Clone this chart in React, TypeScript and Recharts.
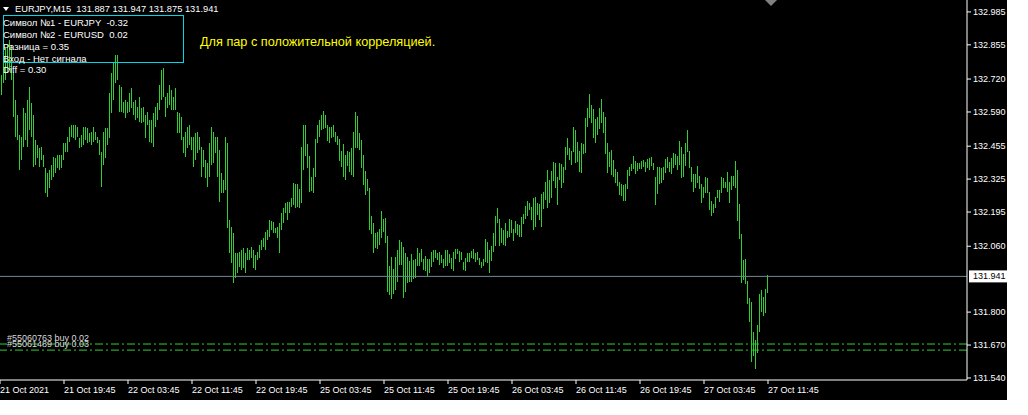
import { ComposedChart, Bar, XAxis, YAxis, ReferenceLine } from 'recharts'

const HIGH = [
  132.795, 132.736, 132.787, 132.843, 132.855, 132.874, 132.855, 132.748, 132.637, 132.578,
  132.499, 132.491, 132.606, 132.586, 132.637, 132.689, 132.625, 132.578, 132.479, 132.460,
  132.448, 132.452, 132.420, 132.369, 132.349, 132.361, 132.380, 132.412, 132.408, 132.420,
  132.420, 132.420, 132.467, 132.467, 132.491, 132.531, 132.539, 132.539, 132.539, 132.531,
  132.487, 132.499, 132.531, 132.531, 132.527, 132.507, 132.511, 132.531, 132.511, 132.491,
  132.479, 132.432, 132.511, 132.527, 132.527, 132.665, 132.744, 132.783, 132.815, 132.815,
  132.697, 132.689, 132.629, 132.637, 132.629, 132.665, 132.685, 132.629, 132.637, 132.610,
  132.649, 132.606, 132.610, 132.578, 132.590, 132.558, 132.558, 132.586, 132.610, 132.625,
  132.697, 132.756, 132.764, 132.649, 132.665, 132.697, 132.677, 132.649, 132.685, 132.590,
  132.586, 132.570, 132.491, 132.511, 132.531, 132.539, 132.491, 132.491, 132.507, 132.511,
  132.491, 132.452, 132.440, 132.400, 132.388, 132.467, 132.531, 132.511, 132.491, 132.491,
  132.440, 132.349, 132.321, 132.491, 132.467, 132.164, 132.136, 132.112, 132.033, 132.033,
  132.037, 132.045, 132.053, 132.033, 132.053, 132.045, 132.057, 132.045, 132.025, 132.037,
  132.065, 132.085, 132.093, 132.116, 132.124, 132.164, 132.160, 132.156, 132.132, 132.136,
  132.152, 132.191, 132.211, 132.231, 132.234, 132.234, 132.250, 132.310, 132.306, 132.306,
  132.286, 132.452, 132.539, 132.539, 132.463, 132.416, 132.333, 132.369, 132.483, 132.539,
  132.558, 132.578, 132.594, 132.578, 132.539, 132.531, 132.531, 132.539, 132.511, 132.495,
  132.483, 132.436, 132.463, 132.420, 132.436, 132.432, 132.448, 132.511, 132.590, 132.574,
  132.507, 132.479, 132.420, 132.357, 132.325, 132.290, 132.179, 132.152, 132.112, 132.116,
  132.128, 132.199, 132.168, 132.172, 132.100, 131.982, 132.017, 131.970, 132.017, 132.045,
  132.085, 132.077, 132.057, 132.033, 132.017, 132.002, 132.029, 132.006, 132.010, 132.053,
  132.033, 132.049, 132.010, 132.021, 132.010, 132.010, 132.037, 132.045, 132.045, 132.033,
  132.037, 132.025, 132.010, 132.045, 132.045, 132.029, 132.014, 132.037, 132.049, 132.049,
  132.041, 132.037, 131.998, 132.014, 132.033, 132.033, 132.041, 132.049, 132.033, 132.037,
  132.014, 131.998, 132.010, 132.089, 132.077, 132.045, 132.061, 132.112, 132.179, 132.211,
  132.168, 132.132, 132.124, 132.152, 132.120, 132.168, 132.164, 132.128, 132.160, 132.148,
  132.144, 132.175, 132.187, 132.219, 132.238, 132.231, 132.215, 132.250, 132.254, 132.231,
  132.227, 132.266, 132.274, 132.314, 132.361, 132.321, 132.357, 132.392, 132.388, 132.333,
  132.388, 132.384, 132.373, 132.452, 132.487, 132.448, 132.436, 132.531, 132.519, 132.471,
  132.436, 132.467, 132.463, 132.566, 132.606, 132.661, 132.618, 132.602, 132.562, 132.570,
  132.606, 132.641, 132.590, 132.570, 132.467, 132.432, 132.440, 132.400, 132.365, 132.353,
  132.314, 132.306, 132.302, 132.306, 132.361, 132.373, 132.384, 132.416, 132.396, 132.388,
  132.388, 132.396, 132.400, 132.392, 132.404, 132.408, 132.412, 132.388, 132.333, 132.373,
  132.373, 132.369, 132.373, 132.404, 132.412, 132.392, 132.408, 132.428, 132.424, 132.416,
  132.475, 132.452, 132.424, 132.467, 132.519, 132.436, 132.373, 132.345, 132.345, 132.377,
  132.337, 132.306, 132.294, 132.333, 132.329, 132.274, 132.238, 132.227, 132.254, 132.282,
  132.282, 132.333, 132.329, 132.314, 132.353, 132.314, 132.337, 132.337, 132.396, 132.361,
  132.227, 132.108, 132.006, 132.010, 131.923, 131.856, 131.840, 131.721, 131.690, 131.749,
  131.872, 131.887, 131.860, 131.891, 131.947,
]

const LOW = [
  132.653, 132.657, 132.704, 132.716, 132.744, 132.756, 132.716, 132.570, 132.491, 132.479,
  132.361, 132.400, 132.452, 132.479, 132.452, 132.519, 132.491, 132.373, 132.380, 132.408,
  132.373, 132.400, 132.373, 132.270, 132.254, 132.290, 132.321, 132.333, 132.349, 132.369,
  132.361, 132.369, 132.400, 132.432, 132.432, 132.471, 132.491, 132.487, 132.479, 132.491,
  132.448, 132.452, 132.460, 132.479, 132.467, 132.471, 132.460, 132.471, 132.479, 132.467,
  132.420, 132.294, 132.380, 132.408, 132.460, 132.487, 132.586, 132.637, 132.704, 132.716,
  132.590, 132.590, 132.586, 132.566, 132.586, 132.590, 132.606, 132.578, 132.558, 132.566,
  132.550, 132.546, 132.550, 132.487, 132.539, 132.471, 132.467, 132.452, 132.531, 132.558,
  132.598, 132.637, 132.649, 132.570, 132.606, 132.618, 132.598, 132.598, 132.598, 132.507,
  132.507, 132.479, 132.428, 132.412, 132.448, 132.460, 132.440, 132.373, 132.400, 132.428,
  132.440, 132.333, 132.373, 132.329, 132.294, 132.333, 132.380, 132.388, 132.428, 132.333,
  132.234, 132.270, 132.270, 132.282, 132.132, 132.033, 131.994, 131.915, 131.935, 131.954,
  131.978, 131.966, 131.974, 131.954, 132.006, 132.006, 132.014, 131.974, 131.966, 132.006,
  132.014, 132.045, 132.057, 132.045, 132.085, 132.097, 132.124, 132.112, 132.112, 132.093,
  132.033, 132.124, 132.152, 132.191, 132.164, 132.191, 132.215, 132.223, 132.211, 132.215,
  132.211, 132.231, 132.361, 132.416, 132.369, 132.274, 132.278, 132.270, 132.333, 132.467,
  132.491, 132.519, 132.523, 132.527, 132.475, 132.467, 132.487, 132.491, 132.471, 132.460,
  132.396, 132.373, 132.333, 132.321, 132.377, 132.353, 132.341, 132.333, 132.448, 132.448,
  132.440, 132.369, 132.302, 132.262, 132.278, 132.124, 132.108, 132.033, 132.053, 132.049,
  132.065, 132.093, 132.116, 132.073, 131.879, 131.868, 131.852, 131.872, 131.887, 131.919,
  131.986, 131.986, 131.856, 131.879, 131.915, 131.919, 131.919, 131.931, 131.935, 131.982,
  131.982, 131.998, 131.966, 131.962, 131.943, 131.954, 131.978, 131.998, 132.014, 132.006,
  131.986, 131.994, 131.974, 131.982, 131.982, 131.994, 131.970, 131.962, 132.010, 132.029,
  131.998, 132.006, 131.966, 131.962, 131.998, 131.998, 132.014, 132.010, 131.998, 132.006,
  131.986, 131.974, 131.982, 131.998, 131.994, 131.954, 132.002, 132.037, 132.061, 132.152,
  132.061, 132.073, 132.065, 132.061, 132.093, 132.097, 132.112, 132.081, 132.112, 132.104,
  132.097, 132.097, 132.148, 132.168, 132.179, 132.203, 132.164, 132.124, 132.136, 132.183,
  132.164, 132.136, 132.207, 132.242, 132.211, 132.231, 132.250, 132.317, 132.290, 132.223,
  132.321, 132.290, 132.310, 132.361, 132.420, 132.400, 132.380, 132.432, 132.388, 132.392,
  132.353, 132.349, 132.424, 132.428, 132.531, 132.566, 132.546, 132.487, 132.467, 132.499,
  132.523, 132.546, 132.507, 132.424, 132.349, 132.373, 132.341, 132.333, 132.310, 132.298,
  132.262, 132.258, 132.238, 132.238, 132.286, 132.337, 132.357, 132.365, 132.345, 132.357,
  132.365, 132.365, 132.373, 132.353, 132.369, 132.361, 132.377, 132.361, 132.223, 132.266,
  132.306, 132.310, 132.321, 132.349, 132.369, 132.353, 132.345, 132.369, 132.380, 132.361,
  132.380, 132.329, 132.333, 132.377, 132.432, 132.369, 132.314, 132.274, 132.290, 132.310,
  132.286, 132.231, 132.250, 132.270, 132.270, 132.203, 132.179, 132.191, 132.211, 132.250,
  132.234, 132.270, 132.290, 132.290, 132.274, 132.231, 132.282, 132.298, 132.290, 132.160,
  132.089, 131.915, 131.927, 131.911, 131.832, 131.761, 131.603, 131.627, 131.575, 131.639,
  131.721, 131.800, 131.785, 131.797, 131.875,
]

const TIME_TICKS = [0, 32, 64, 96, 128, 160, 192, 224, 256, 288, 320, 352, 384]
const TIME_LABELS = [
  '21 Oct 2021', '21 Oct 19:45', '22 Oct 03:45', '22 Oct 11:45', '22 Oct 19:45',
  '25 Oct 03:45', '25 Oct 11:45', '25 Oct 19:45', '26 Oct 03:45', '26 Oct 11:45',
  '26 Oct 19:45', '27 Oct 03:45', '27 Oct 11:45',
]
const PRICE_TICKS = [132.985, 132.855, 132.72, 132.59, 132.455, 132.325, 132.195, 132.06, 131.8, 131.67, 131.54]

const BID = 131.941
const ORDER_TICKETS = ['#55060763', '#55061489']
const ORDER_LOTS = [0.02, 0.03]
const ORDER_PRICES = [131.674, 131.650]

const HEADER = 'EURJPY,M15  131.887 131.947 131.875 131.941'
const INFO_LINES = ['Символ №1 - EURJPY  -0.32', 'Символ №2 - EURUSD  0.02', 'Разница = 0.35', 'Вход - Нет сигнала', 'Diff = 0.30']
const NOTE = 'Для пар с положительной корреляцией.'

const GREEN = '#32cd32'
const FONT = '"Liberation Sans", Arial, sans-serif'

const data = HIGH.map((h, i) => ({ i, range: [LOW[i], h] }))

function HLBar(p: any) {
  const top = Math.round(Math.min(p.y, p.y + p.height))
  const bottom = Math.round(Math.max(p.y, p.y + p.height))
  const cx = Math.floor(p.x + p.width / 2)
  return <rect x={cx} y={top} width={1} height={Math.max(1, bottom - top)} fill={GREEN} />
}

function TimeTick({ x, y, payload }: any) {
  return (
    <text x={x} y={y + 3.5} fill="#fff" fontSize={9} fontFamily={FONT} dominantBaseline="central">
      {TIME_LABELS[TIME_TICKS.indexOf(payload.value)]}
    </text>
  )
}

const bidLabel = (p: any) => {
  const vb = p.viewBox
  const x = vb.x + vb.width + 2
  return (
    <g>
      <rect x={x} y={vb.y - 6} width={38} height={12} fill="#fff" />
      <text x={x + 4} y={vb.y} fill="#000" fontSize={9} fontFamily={FONT} dominantBaseline="central">
        {BID.toFixed(3)}
      </text>
    </g>
  )
}

const orderLabel = (k: number) => (p: any) => (
  <text x={p.viewBox.x + 7} y={p.viewBox.y - 6} fill="#d8d8d8" fontSize={9} fontFamily={FONT} dominantBaseline="central">
    {`${ORDER_TICKETS[k]} buy ${ORDER_LOTS[k].toFixed(2)}`}
  </text>
)

export default function App() {
  return (
    <div style={{ position: 'absolute', left: 0, top: 0, width: 1028, height: 415, background: '#fff' }}>
      <div style={{ position: 'relative', width: 1007, height: 400, background: '#000' }}>
        <ComposedChart width={1007} height={400} data={data} margin={{ top: 0, right: 0, bottom: 0, left: 0 }}>
          <XAxis
            type="number"
            dataKey="i"
            domain={[0, 483.5]}
            allowDataOverflow
            ticks={TIME_TICKS}
            interval={0}
            height={20}
            stroke="#fff"
            tickSize={4}
            tick={<TimeTick />}
          />
          <YAxis
            orientation="right"
            type="number"
            domain={[131.532, 133.032]}
            allowDataOverflow
            ticks={PRICE_TICKS}
            interval={0}
            width={40}
            stroke="#fff"
            tickSize={4}
            tickFormatter={(v: number) => v.toFixed(3)}
            tick={{ fill: '#fff', fontSize: 9, fontFamily: FONT }}
          />
          <Bar dataKey="range" barSize={1} isAnimationActive={false} shape={<HLBar />} />
          <ReferenceLine y={BID} stroke="#778899" label={bidLabel} />
          {ORDER_PRICES.map((p, k) => (
            <ReferenceLine key={k} y={p} stroke={GREEN} strokeDasharray="8 3 2 3" label={orderLabel(k)} />
          ))}
        </ComposedChart>
        <svg width={1007} height={400} style={{ position: 'absolute', left: 0, top: 0, pointerEvents: 'none' }}>
          <polygon points="3,7 9,7 6,11" fill="#fff" />
          <text x={15} y={9} fill="#fff" fontSize={9.3} fontFamily={FONT} dominantBaseline="central" style={{ whiteSpace: 'pre' }}>
            {HEADER}
          </text>
          <rect x={3.5} y={15.5} width={180} height={47} fill="none" stroke="#00d8e8" />
          {INFO_LINES.map((t, k) => (
            <text key={k} x={3} y={22.8 + k * 11.75} fill="#fff" fontSize={9.5} fontFamily={FONT} dominantBaseline="central" style={{ whiteSpace: 'pre' }}>
              {t}
            </text>
          ))}
          <text x={200} y={41.5} fill="#ffff00" fontSize={12.7} fontFamily={FONT} dominantBaseline="central">
            {NOTE}
          </text>
          <polygon points="765,0 777,0 771,6" fill="#808080" />
        </svg>
      </div>
    </div>
  )
}
